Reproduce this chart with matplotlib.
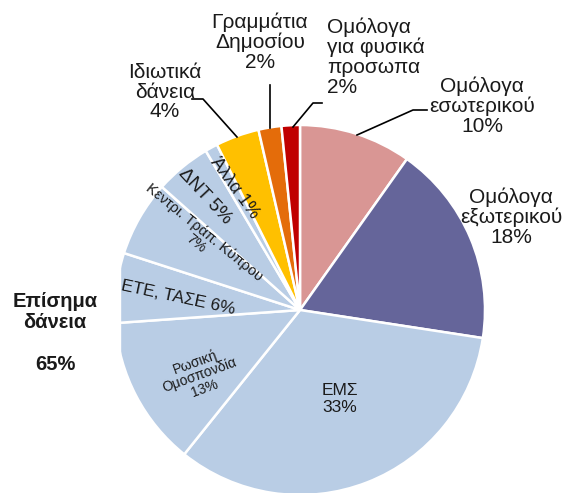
import matplotlib.pyplot as plt
from matplotlib.patches import Rectangle

plt.rcParams['font.family'] = ['Liberation Sans', 'DejaVu Sans']

# slices, clockwise from 12 o'clock
labels = ['Ομόλογα εσωτερικού', 'Ομόλογα εξωτερικού', 'ΕΜΣ', 'Ρωσική Ομοσπονδία',
          'ΕΤΕ, ΤΑΣΕ', 'Κεντρ. Τράπ. Κύπρου', 'ΔΝΤ', 'Άλλα', 'Ιδιωτικά δάνεια',
          'Γραμμάτια Δημοσίου', 'Ομόλογα για φυσικά πρόσωπα']
shares = [9.8, 17.6, 33.3, 13.1, 6.1, 6.6, 4.9, 1.1, 3.8, 2.0, 1.6]
colors = ['#D99694', '#65659A', '#B9CDE5', '#B9CDE5', '#B9CDE5', '#B9CDE5',
          '#B9CDE5', '#B9CDE5', '#FFC000', '#E46C0A', '#C00000']

W, H = 564, 493
fig = plt.figure(figsize=(W / 100, H / 100), dpi=100)
ax = fig.add_axes([0, 0, 1, 1])

def Y(y):
    return H - y

ax.pie(shares, colors=colors, startangle=90, counterclock=False,
       center=(300, Y(310)), radius=185, frame=True,
       wedgeprops=dict(edgecolor='white', linewidth=1.8))
ax.set_xlim(0, W)
ax.set_ylim(0, H)
ax.set_aspect('equal')
ax.axis('off')

# white box on the left that cuts the pie
ax.add_patch(Rectangle((0, 0), 120, H, color='white', zorder=3))

fs = 15
ink = '#1a1a1a'
txt = dict(ha='center', va='center', fontsize=fs, color=ink, zorder=5,
           linespacing=1.05)

# outside labels
ax.text(260, Y(42), 'Γραμμάτια\nΔημοσίου\n2%', **txt)
ax.text(327, Y(57), 'Ομόλογα\nγια φυσικά\nπροσωπα\n2%', ha='left', va='center',
        fontsize=fs, color=ink, linespacing=1.05, zorder=5)
ax.text(482, Y(106), 'Ομόλογα\nεσωτερικού\n10%', **txt)
ax.text(511, Y(217), 'Ομόλογα\nεξωτερικού\n18%', **txt)
ax.text(165, Y(92), 'Ιδιωτικά\nδάνεια\n4%', **txt)
ax.text(55, Y(333), 'Επίσημα\nδάνεια\n\n65%', ha='center', va='center',
        fontsize=14.5, fontweight='bold', color=ink, linespacing=1.15, zorder=5)

# inside labels
ax.text(340, Y(399), 'ΕΜΣ\n33%', ha='center', va='center', fontsize=12.5,
        color=ink, linespacing=1.1, zorder=5)
ax.text(200, Y(375), 'Ρωσική\nΟμοσπονδία\n13%', ha='center', va='center',
        fontsize=10, rotation=20, linespacing=1.0, color=ink, zorder=5)
ax.text(178, Y(298), 'ΕΤΕ, ΤΑΣΕ 6%', ha='center', va='center',
        fontsize=12.5, rotation=-12, color=ink, zorder=5)
ax.text(200, Y(238), 'Κεντρι. Τράπ. Κύπρου\n7%', ha='center', va='center',
        fontsize=10.5, rotation=-39, linespacing=1.0, color=ink, zorder=5)
ax.text(205, Y(196), 'ΔΝΤ 5%', ha='center', va='center',
        fontsize=13.5, rotation=-47, color=ink, zorder=5)
ax.text(235, Y(188), 'Άλλα 1%', ha='center', va='center',
        fontsize=13, rotation=-54, color=ink, zorder=5)

# leader lines
lk = dict(color='black', linewidth=1.2, zorder=5)
ax.plot([192, 203, 237], [Y(99), Y(99), Y(137)], **lk)
ax.plot([270, 270], [Y(85), Y(128)], **lk)
ax.plot([322, 313, 293], [Y(103), Y(103), Y(127)], **lk)
ax.plot([427, 413, 357], [Y(110), Y(110), Y(135)], **lk)

fig.savefig('out.png', dpi=100)
